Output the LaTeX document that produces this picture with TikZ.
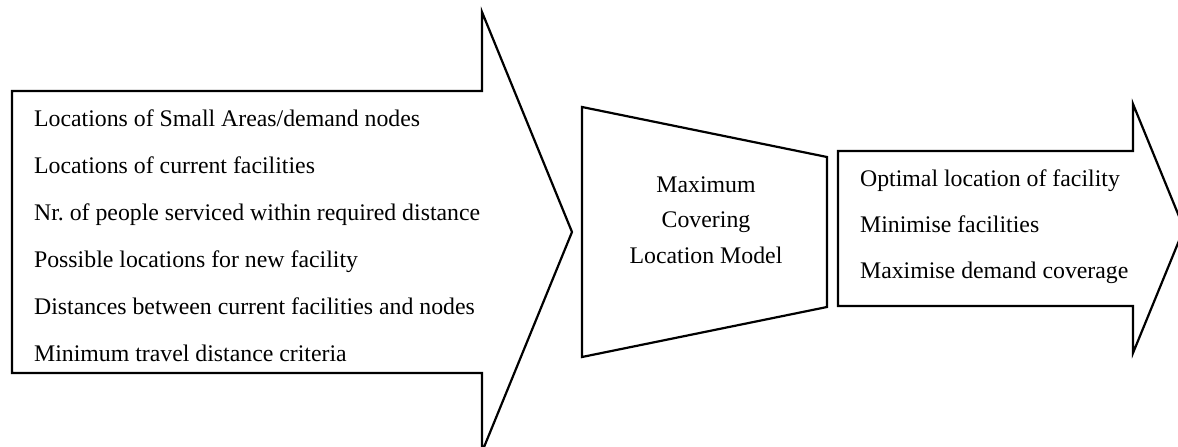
\documentclass[tikz,border=0pt]{standalone}
\usepackage{fontspec}
\setmainfont{Liberation Serif}

\begin{document}
\begin{tikzpicture}[x=1pt,y=-1pt,line width=2.2pt,miter limit=20]
        \tikzstyle{outline}=[draw=black,fill=white]
        \tikzstyle{item}=[anchor=base west,inner sep=0pt,font=\fontsize{23.8}{28}\selectfont]
        \tikzstyle{model}=[align=center,inner sep=0pt,font=\fontsize{23.8}{35.5}\selectfont]
        \clip (0,0) rectangle (1178,447);

        % inputs
        \draw[outline] (12,91) -- (482,91) -- (482,12) -- (572,232) -- (482,452)
                       -- (482,373) -- (12,373) -- cycle;
        % model
        \draw[outline] (582,107) -- (827,157) -- (827,307) -- (582,357) -- cycle;
        % outputs
        \draw[outline] (838,151) -- (1133,151) -- (1133,104) -- (1184,228.5) -- (1133,353)
                       -- (1133,306) -- (838,306) -- cycle;

        \node[item] (sa)    at (33,126) {Locations of Small Areas/demand nodes};
        \node[item] (cur)   at (33,173) {Locations of current facilities};
        \node[item] (ppl)   at (33,220) {Nr.\ of people serviced within required distance};
        \node[item] (poss)  at (33,267) {Possible locations for new facility};
        \node[item] (dist)  at (33,314) {Distances between current facilities and nodes};
        \node[item] (crit)  at (33,361) {Minimum travel distance criteria};

        \node[model] (mclm) at (706,220) {Maximum\\Covering\\Location Model};

        \node[item] (opt)   at (859,186) {Optimal location of facility};
        \node[item] (minf)  at (859,232) {Minimise facilities};
        \node[item] (maxd)  at (859,278) {Maximise demand coverage};
\end{tikzpicture}
\end{document}
